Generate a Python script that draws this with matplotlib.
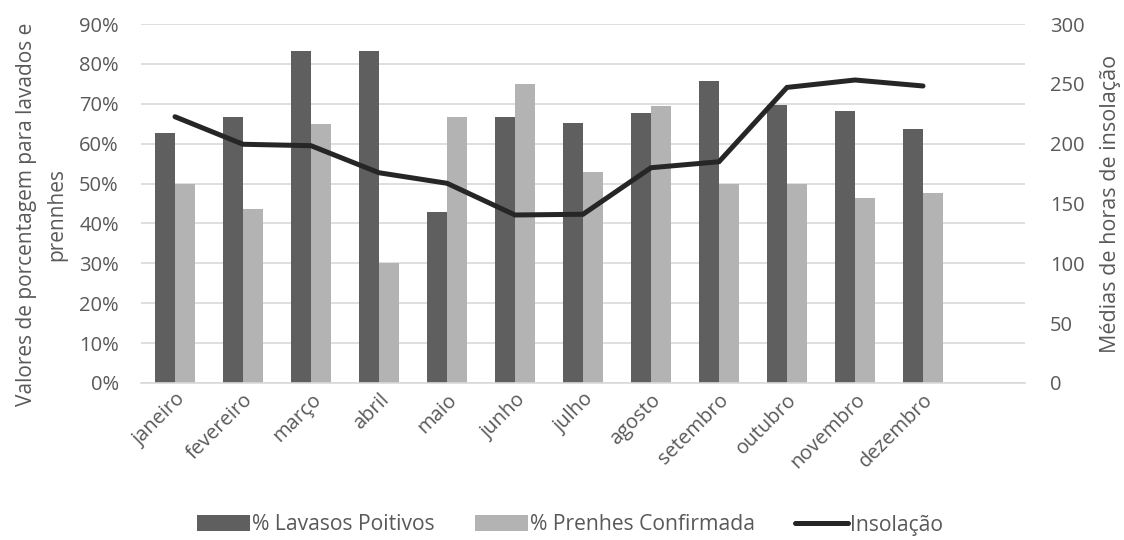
import numpy as np
import matplotlib
matplotlib.use("Agg")
import matplotlib.pyplot as plt
from matplotlib.ticker import FuncFormatter, MultipleLocator

plt.rcParams['font.family'] = ['Open Sans', 'DejaVu Sans']

months = ["janeiro", "fevereiro", "março", "abril", "maio", "junho",
          "julho", "agosto", "setembro", "outubro", "novembro", "dezembro"]
lavados_pos = [62.7, 66.7, 83.3, 83.3, 42.9, 66.7, 65.3, 67.6, 75.6, 69.8, 68.1, 63.7]
prenhes_conf = [50.0, 43.6, 65.0, 30.0, 66.7, 75.0, 52.8, 69.4, 50.0, 50.0, 46.5, 47.6]
insolacao = [222.5, 199.5, 198.3, 175.7, 166.9, 140.4, 141.0, 179.9, 184.9, 247.0, 253.2, 248.2]

dark = "#5f5f5f"
light = "#b3b3b3"
line_c = "#262626"
grid_c = "#d9d9d9"
text_c = "#595959"

fig = plt.figure(figsize=(11.24, 5.4), dpi=100)
ax = fig.add_axes([141 / 1124, 1 - 383 / 540, (1025 - 141) / 1124, (383 - 24) / 540])
ax2 = ax.twinx()

x = np.arange(len(months))
w = 0.29
ax.bar(x - w / 2, lavados_pos, width=w, color=dark, label="% Lavasos Poitivos", zorder=2)
ax.bar(x + w / 2, prenhes_conf, width=w, color=light, label="% Prenhes Confirmada", zorder=2)
ax2.plot(x, insolacao, color=line_c, lw=3.6, solid_capstyle='round',
         solid_joinstyle='miter', label="Insolação", zorder=3)

ax.set_xlim(-0.5, len(months) + 0.5)
ax.set_ylim(0, 90)
ax2.set_ylim(0, 300)
ax.yaxis.set_major_locator(MultipleLocator(10))
ax2.yaxis.set_major_locator(MultipleLocator(50))
ax.yaxis.set_major_formatter(FuncFormatter(lambda v, p: f"{v:.0f}%"))

ax.grid(axis='y', color=grid_c, lw=1.2, zorder=0)
ax.set_axisbelow(True)
for a in (ax, ax2):
    for s in a.spines.values():
        s.set_visible(False)
ax.spines['bottom'].set_visible(True)
ax.spines['bottom'].set_color(grid_c)
ax.spines['bottom'].set_linewidth(1.2)

ax.set_xticks(x)
ax.set_xticklabels(months, rotation=45, ha='right', rotation_mode='anchor',
                   fontsize=14.5, color=text_c)
ax.tick_params(axis='x', length=0, pad=5)
ax.tick_params(axis='y', length=0, labelsize=14.5, labelcolor=text_c, pad=16)
ax2.tick_params(axis='y', length=0, labelsize=14.5, labelcolor=text_c, pad=18)

ax.set_ylabel("Valores de porcentagem para lavados e\nprennhes", fontsize=15,
              color=text_c, linespacing=1.6)
ax.yaxis.set_label_coords(-0.083, 0.47)
ax2.set_ylabel("Médias de horas de insolação", fontsize=15.5, color=text_c, labelpad=11)

h1, l1 = ax.get_legend_handles_labels()
h2, l2 = ax2.get_legend_handles_labels()
fig.legend(h1 + h2, l1 + l2, loc='center', bbox_to_anchor=(570 / 1124, 1 - 525 / 540),
           ncol=3, frameon=False, fontsize=15.2, labelcolor=text_c,
           handlelength=2.5, handleheight=0.8, handletextpad=0.1, columnspacing=1.9)

fig.savefig("out.png", dpi=100, facecolor="white")
